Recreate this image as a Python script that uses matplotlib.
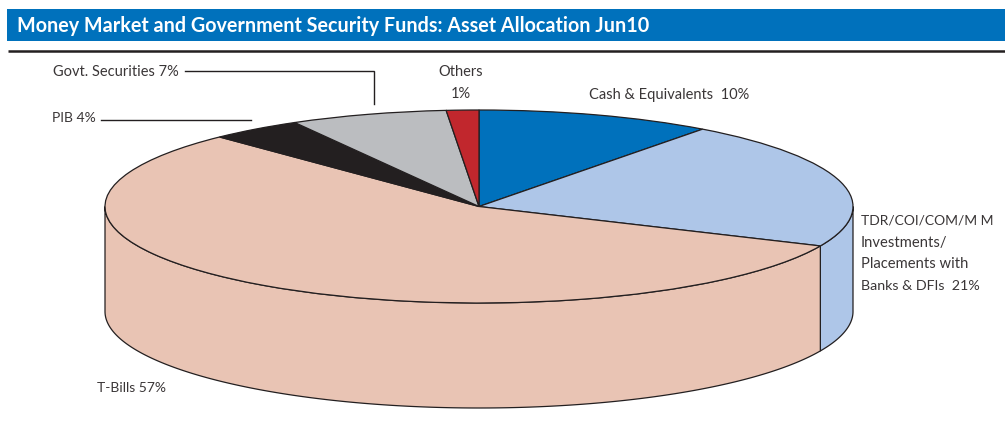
import numpy as np
import matplotlib
matplotlib.use("Agg")
import matplotlib.pyplot as plt
from matplotlib.patches import Rectangle

title = "Money Market and Government Security Funds: Asset Allocation Jun10"
categories = ["Cash & Equivalents", "TDR/COI/COM/M M", "T-Bills", "PIB", "Govt. Securities", "Others"]
label_percent = [10, 21, 57, 4, 7, 1]
slice_shares = [10.2, 21.5, 56.1, 4.0, 6.8, 1.4]
colors = ["#0071BC", "#AEC6E8", "#E9C4B4", "#231F20", "#BBBDC0", "#C1272D"]

W, H = 1005, 421
CX, CY, RX, RY, DEPTH = 479, 206.5, 374, 96.5, 105
EDGE = "#231F20"
TEXT = "#3A3637"
FONT = "Lato"

fig = plt.figure(figsize=(W / 100, H / 100), dpi=100, facecolor="white")

ax = fig.add_axes([0, 0, 1, 1])
ax.pie(slice_shares, colors=colors, startangle=90, counterclock=False,
       wedgeprops=dict(edgecolor=EDGE, linewidth=0.9, zorder=3))
ax.set_aspect("auto")
ax.set_xlim((0 - CX) / RX, (W - CX) / RX)
ax.set_ylim((CY - H) / RY, (CY - 0) / RY)
ax.axis("off")

# side wall of the disc: the part of each slice on the front half
depth = DEPTH / RY
edges = 90 - np.cumsum([0] + slice_shares) / sum(slice_shares) * 360
for hi, lo, c in zip(edges[:-1], edges[1:], colors):
    a, b = max(lo, -180), min(hi, 0)
    if a >= b:
        continue
    t = np.radians(np.linspace(a, b, 200))
    xs = np.r_[np.cos(t), np.cos(t[::-1])]
    ys = np.r_[np.sin(t), np.sin(t[::-1]) - depth]
    ax.fill(xs, ys, facecolor=c, edgecolor=EDGE, linewidth=0.9, zorder=2)

# overlay in pixel coordinates for the banner, leaders and labels
ov = fig.add_axes([0, 0, 1, 1], facecolor="none")
ov.set_xlim(0, W)
ov.set_ylim(H, 0)
ov.axis("off")

ov.add_patch(Rectangle((7, 9), W - 7, 32, facecolor="#0071BC", edgecolor="none"))
ov.plot([8, W], [50.5, 50.5], color="#231F20", lw=1.8, solid_capstyle="butt")
ov.text(17, 26, title, color="white", fontsize=14.2, fontweight="bold",
        family=FONT, va="center", ha="left")

ov.plot([185, 374, 374], [70.5, 70.5, 104], color=EDGE, lw=1.0, solid_joinstyle="miter")
ov.plot([101, 251], [119.5, 119.5], color=EDGE, lw=1.0)

def lab(x, y, s, ha="left", fs=10.5):
    ov.text(x, y, s, color=TEXT, fontsize=fs, family=FONT, va="center", ha=ha)

lab(53, 72.5, f"{categories[4]} {label_percent[4]}%")
lab(52, 118, f"{categories[3]} {label_percent[3]}%", fs=10)
lab(461, 72.5, categories[5], ha="center")
lab(461, 93.5, f"{label_percent[5]}%", ha="center")
lab(589, 95.5, f"{categories[0]}  {label_percent[0]}%")
lab(861, 220.5, categories[1], fs=10)
lab(861, 243, "Investments/", fs=10.6)
lab(861, 264, "Placements with", fs=10.6)
lab(861, 286, f"Banks & DFIs  {label_percent[1]}%", fs=10.3)
lab(97, 388.5, f"{categories[2]} {label_percent[2]}%", fs=10)

fig.savefig("out.png", dpi=100, facecolor="white")
